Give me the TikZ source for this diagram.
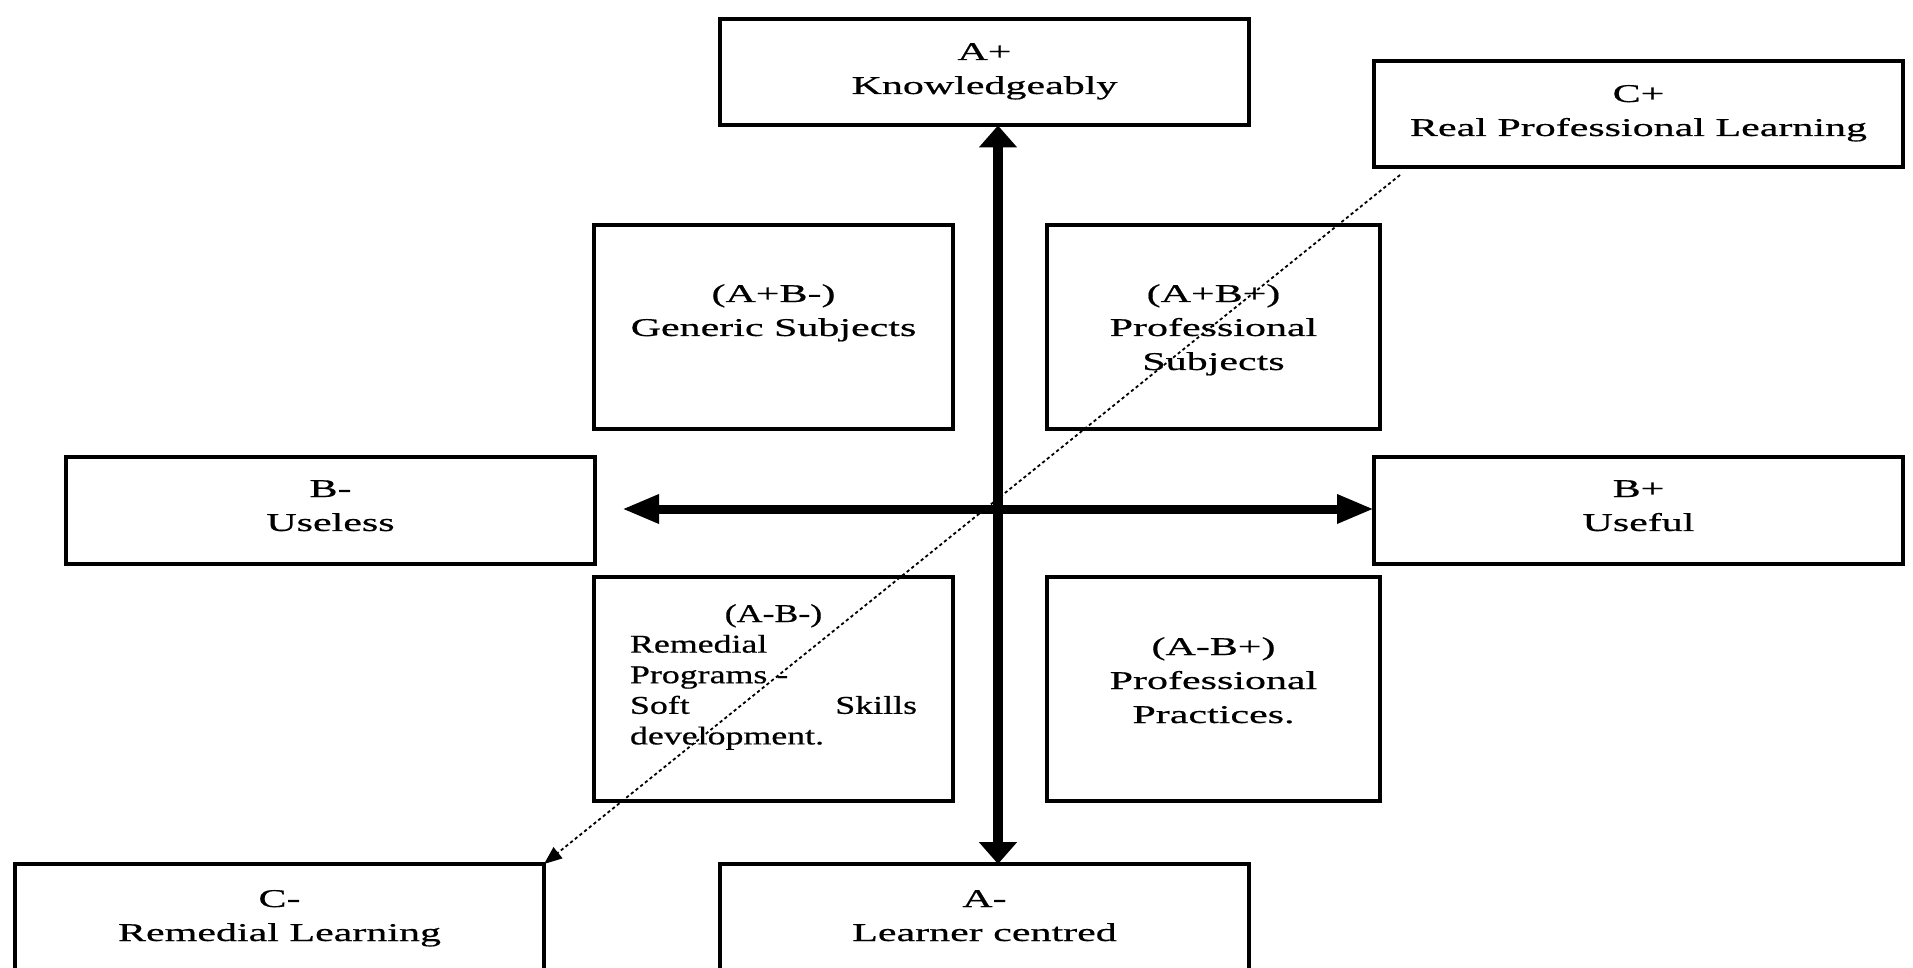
\documentclass[tikz,border=0pt]{standalone}
\usepackage{fontspec}
\setmainfont[FakeStretch=1.64,FakeBold=0.6]{Liberation Serif}
\newfontfamily\narrowserif[FakeStretch=1.4,FakeBold=0.6]{Liberation Serif}
\usetikzlibrary{arrows.meta}
\begin{document}
\begin{tikzpicture}[x=0.5pt,y=-0.5pt,
  box/.style={draw, line width=2pt, inner sep=0pt, outer sep=0pt, anchor=north west},
  wide/.style={box, minimum width=264.5pt, minimum height=53.25pt},
  quadl/.style={box, minimum width=179.5pt},
  quadr/.style={box, minimum width=166.5pt},
  lbl/.style={inner sep=0pt, anchor=base, font=\fontsize{12.8}{17}\selectfont},
  vaxis/.style={line width=5pt, {Triangle[length=11pt,width=18.5pt]}-{Triangle[length=11pt,width=18.5pt]}},
  haxis/.style={line width=4.5pt, {Triangle[length=18.5pt,width=13.5pt]}-{Triangle[length=18.5pt,width=13.5pt]}},
  diag/.style={line width=0.9pt, dash pattern=on 1.6pt off 1.4pt, -{Triangle[length=9pt,width=7pt]}}
]
\useasboundingbox (0,0) rectangle (1913,968);
\clip (0,0) rectangle (1913,968);
% boxes
\node[wide] (Ap) at (720,19) {};
\node[wide] (Cp) at (1374,61) {};
\node[quadl, minimum height=102pt] (ApBm) at (594,225) {};
\node[quadr, minimum height=102pt] (ApBp) at (1047,225) {};
\node[wide] (Bm) at (66,457) {};
\node[wide] (Bp) at (1374,457) {};
\node[quadl, minimum height=112pt] (AmBm) at (594,577) {};
\node[quadr, minimum height=112pt] (AmBp) at (1047,577) {};
\node[wide] (Cm) at (15,864) {};
\node[wide] (Am) at (720,864) {};
% texts
\node[lbl] (tAp) at (984.5,60) {\begin{tabular}[t]{@{}c@{}}A+\\Knowledgeably\end{tabular}};
\node[lbl] (tCp) at (1638.5,102) {\begin{tabular}[t]{@{}c@{}}C+\\Real Professional Learning\end{tabular}};
\node[lbl] (tApBm) at (773.5,302) {\begin{tabular}[t]{@{}c@{}}(A+B-)\\Generic Subjects\end{tabular}};
\node[lbl] (tApBp) at (1213.5,302) {\begin{tabular}[t]{@{}c@{}}(A+B+)\\Professional\\Subjects\end{tabular}};
\node[lbl] (tBm) at (330.5,497) {\begin{tabular}[t]{@{}c@{}}B-\\Useless\end{tabular}};
\node[lbl] (tBp) at (1638.5,497) {\begin{tabular}[t]{@{}c@{}}B+\\Useful\end{tabular}};
\node[lbl, font=\narrowserif\fontsize{12.8}{15.3}\selectfont] (tAmBm) at (773.5,622) {\begin{minipage}[t]{143.5pt}\centerline{(A-B-)}\noindent Remedial\\
Programs -\\
Soft\hfill Skills\\
development.\end{minipage}};
\node[lbl] (tAmBp) at (1213.5,655) {\begin{tabular}[t]{@{}c@{}}(A-B+)\\Professional\\Practices.\end{tabular}};
\node[lbl] (tCm) at (279.5,907) {\begin{tabular}[t]{@{}c@{}}C-\\Remedial Learning\end{tabular}};
\node[lbl] (tAm) at (984.5,907) {\begin{tabular}[t]{@{}c@{}}A-\\Learner centred\end{tabular}};
% axes
\coordinate (O) at (998,509);
\coordinate (Lend) at (622,509);
\coordinate (Cstart) at (1400,175);
\draw[vaxis] (O |- Ap.south) -- (O |- Am.north);
\draw[haxis] (Lend) -- (Lend -| Bp.west);
\draw[diag] (Cstart) -- (Cm.north east);
\end{tikzpicture}
\end{document}
